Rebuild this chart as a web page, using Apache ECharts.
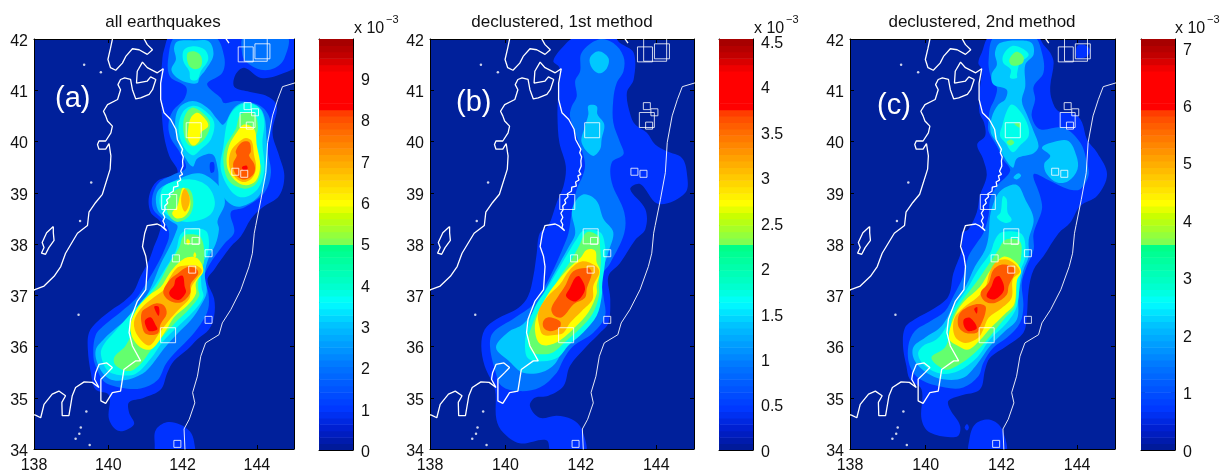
<!DOCTYPE html>
<html><head><meta charset="utf-8">
<script src="https://cdn.jsdelivr.net/npm/echarts@6/dist/echarts.min.js"></script>
<style>html,body{margin:0;padding:0;background:#fff}#c{width:1228px;height:474px}</style></head>
<body><div id="c"></div>
<script>
// Contour polygons: flat lon,lat lists. One array per contour level.
const a1=[[141.73,42.1,141.50,41.79,141.44,41.47,141.39,41.08,141.43,40.63,141.50,40.11,141.64,39.72,141.86,39.39,141.32,39.23,141.10,38.94,141.14,38.62,141.41,38.42,141.37,38.21,141.23,37.95,141.10,37.69,140.87,37.37,140.69,37.08,140.42,36.88,140.16,36.75,139.71,36.49,139.48,36.27,139.45,35.94,139.53,35.49,139.66,35.16,140.02,35.05,140.02,34.58,140.29,34.35,140.69,34.48,140.56,34.71,140.56,34.91,140.96,35.0,141.41,35.16,141.59,35.49,141.77,35.72,142.13,35.94,142.40,36.14,142.71,36.33,142.85,36.59,142.85,36.93,142.67,37.30,142.85,37.50,143.30,37.95,143.57,38.15,143.84,38.49,144.15,38.71,144.60,38.94,144.74,39.33,144.60,39.72,144.42,40.17,144.54,40.69,144.29,40.88,143.75,40.98,143.39,41.07,143.43,41.31,143.66,41.44,144.11,41.24,144.64,41.31,145.2,41.55,145.2,42.1],
[141.31,33.9,141.25,34.1,141.28,34.37,141.57,34.52,141.93,34.48,142.20,34.34,142.31,34.14,142.29,33.9]];
const a2=[[141.82,42.05,141.62,41.66,141.66,41.27,142.09,41.07,142.06,40.85,141.73,40.59,141.62,40.33,141.68,40.07,141.91,39.81,142.09,39.49,141.77,39.36,141.37,39.20,141.19,38.94,141.21,38.68,141.50,38.45,141.64,38.19,141.50,37.87,141.28,37.55,140.96,37.16,140.74,36.93,140.33,36.67,139.93,36.44,139.66,36.22,139.60,35.79,139.71,35.53,139.89,35.31,140.24,35.21,140.87,35.18,141.32,35.34,141.55,35.66,141.77,35.86,142.13,36.12,142.49,36.44,142.69,36.73,142.69,37.06,142.58,37.32,142.71,37.58,143.12,38.0,143.39,38.23,143.30,38.62,143.66,38.71,144.20,39.0,144.38,39.39,144.29,39.85,144.38,40.37,144.11,40.69,143.48,40.79,143.12,40.75,143.03,40.85,142.71,41.05,142.67,41.14,143.07,41.34,143.12,41.66,142.85,42.05],
[143.61,41.69,143.75,41.53,144.11,41.40,144.47,41.43,144.74,41.62,144.81,42.05,143.66,42.05]];
const a3=[[141.77,41.82,141.86,41.95,142.31,41.97,142.71,41.95,142.83,41.69,142.62,41.40,142.45,41.24,142.40,41.14,142.18,41.14,141.86,41.24,141.70,41.40,141.82,41.60],
[142.27,40.79,142.67,40.66,142.94,40.43,143.10,40.33,143.39,40.66,143.75,40.77,144.15,40.59,144.26,40.04,144.26,39.39,144.06,38.94,143.57,38.73,143.25,38.80,143.0,39.07,142.95,39.46,142.80,39.75,142.40,39.67,142.27,39.51,142.04,39.72,141.86,40.04,141.80,40.37,141.91,40.66],
[142.45,39.38,142.98,39.13,143.14,38.81,142.94,38.45,142.98,38.29,142.89,38.0,142.71,37.74,142.60,37.42,142.65,37.06,142.49,36.80,142.22,36.51,141.86,36.25,141.50,35.96,141.19,35.66,140.92,35.47,140.42,35.34,140.02,35.37,139.75,35.60,139.66,35.92,139.89,36.15,140.24,36.38,140.69,36.64,140.96,36.90,141.19,37.22,141.41,37.61,141.64,37.93,141.82,38.23,141.86,38.36,141.68,38.45,141.37,38.62,141.28,38.87,141.37,39.07,141.77,39.23]];
const a4=[[142.04,41.79,142.31,41.86,142.60,41.79,142.69,41.60,142.49,41.37,142.40,41.21,142.22,41.21,142.18,41.37,142.02,41.57],
[142.31,40.70,142.62,40.59,142.85,40.37,142.76,40.04,142.49,39.85,142.27,39.73,142.02,39.91,141.89,40.27,142.02,40.59],
[143.70,40.75,144.06,40.66,144.20,40.40,144.15,39.98,144.20,39.46,144.02,39.07,143.61,38.91,143.30,39.04,143.03,39.46,143.10,39.91,143.21,40.40,143.39,40.63],
[141.59,39.17,142.22,39.26,142.67,39.13,142.87,38.81,142.71,38.55,142.13,38.43,141.68,38.52,141.41,38.71,141.41,39.0],
[142.22,38.30,142.62,38.26,142.71,38.06,142.67,37.80,142.51,37.58,142.51,37.16,142.56,36.96,142.31,36.70,141.86,36.38,141.46,36.09,141.14,35.76,140.74,35.47,140.33,35.44,139.98,35.53,139.80,35.86,139.89,36.05,140.16,36.28,140.60,36.64,140.96,36.93,141.28,37.22,141.55,37.54,141.82,37.87,141.95,38.19]];
const a5=[[142.13,41.72,142.31,41.76,142.50,41.66,142.50,41.47,142.33,41.41,142.16,41.50],
[142.31,40.66,142.58,40.53,142.74,40.37,142.67,40.14,142.45,39.95,142.22,39.91,142.07,40.04,142.02,40.37,142.13,40.59],
[143.57,40.53,143.93,40.53,144.03,40.27,143.97,40.04,144.06,39.65,144.12,39.46,143.97,39.17,143.66,39.08,143.25,39.23,143.10,39.59,143.16,39.91,143.43,40.24],
[141.86,39.07,142.18,39.07,142.29,38.81,142.18,38.55,141.86,38.43,141.64,38.55,141.57,38.74,141.68,38.94],
[142.13,38.19,142.49,38.13,142.58,37.67,142.45,37.42,142.42,37.12,142.45,36.99,142.18,36.73,141.77,36.44,141.41,36.15,141.14,35.92,140.87,35.66,140.56,35.52,140.20,35.63,140.16,35.79,140.47,36.02,140.74,36.44,140.92,36.83,141.32,37.19,141.64,37.61,141.91,37.93,142.0,38.13]];
const a6=[[142.40,40.56,142.62,40.43,142.69,40.30,142.49,40.17,142.45,40.01,142.29,39.92,142.15,40.04,142.15,40.23,142.22,40.46],
[143.66,40.33,143.93,40.24,144.0,39.91,144.09,39.52,143.97,39.23,143.66,39.15,143.34,39.30,143.19,39.55,143.25,39.91,143.48,40.20],
[142.02,39.10,142.18,38.94,142.20,38.71,142.06,38.54,141.84,38.50,141.72,38.60,141.86,38.74,141.93,38.94],
[142.13,37.74,142.40,37.72,142.56,37.48,142.36,37.25,142.36,37.03,142.13,36.80,141.77,36.57,141.55,36.31,141.19,35.96,140.92,35.96,140.69,36.12,140.59,36.38,140.74,36.70,141.10,37.0,141.41,37.16,141.64,37.42,141.86,37.61],
[142.13,38.10,142.2,38.05,142.15,37.98,142.1,38.04],[142.33,37.84,142.37,37.78,142.33,37.73,142.29,37.78]];
const a7=[[143.70,40.07,143.86,40.01,143.92,39.75,143.98,39.49,143.86,39.28,143.61,39.21,143.37,39.34,143.25,39.55,143.30,39.81,143.50,39.98],
[142.06,39.08,142.18,38.94,142.18,38.78,142.07,38.63,141.98,38.74,141.97,38.94],
[142.09,37.58,142.36,37.58,142.52,37.48,142.38,37.32,142.24,37.16,142.18,36.93,141.91,36.73,141.59,36.47,141.39,36.28,141.10,36.02,140.80,36.20,140.69,36.47,140.87,36.73,141.23,36.96,141.52,37.12,141.64,37.32,141.86,37.54]];
const a8=[[143.59,39.98,143.79,39.99,143.84,39.81,143.79,39.72,143.93,39.56,143.94,39.41,143.82,39.30,143.61,39.26,143.43,39.36,143.36,39.56,143.46,39.72,143.43,39.81],
[141.86,37.42,142.13,37.55,142.36,37.52,142.42,37.42,142.22,37.22,142.20,37.03,141.95,36.86,141.64,36.90,141.48,37.06,141.64,37.29],
[141.28,36.84,141.50,36.80,141.57,36.64,141.41,36.44,141.32,36.25,141.01,36.25,140.90,36.44,140.90,36.67,141.05,36.76]];
const a9=[[143.6,39.50,143.72,39.53,143.75,39.47,143.66,39.43],
[141.82,37.32,142.0,37.38,142.06,37.16,142.09,37.06,141.91,36.91,141.70,36.96,141.64,37.06,141.77,37.19],
[140.99,36.51,141.14,36.57,141.28,36.41,141.32,36.33,141.10,36.30,141.01,36.40],
[141.24,36.78,141.36,36.77,141.36,36.6,141.28,36.68]];
const aPatch=[[142.74,39.58,142.84,39.59,142.85,39.42,142.76,39.39]];

const b1=[[141.89,42.05,141.54,41.86,141.27,41.57,141.43,41.44,141.40,40.95,141.38,40.50,141.43,39.98,141.60,39.52,141.54,39.13,141.36,38.81,141.14,38.36,140.91,38.21,140.83,37.82,140.74,37.37,140.60,36.98,140.34,36.75,139.76,36.53,139.45,36.33,139.36,36.01,139.45,35.62,139.72,35.16,139.76,34.58,139.94,34.32,140.38,34.11,141.09,34.17,141.23,33.9,142.11,33.9,142.02,34.39,141.76,34.58,141.36,34.65,140.91,34.61,140.65,34.84,140.78,35.0,141.14,35.04,141.54,35.23,141.71,35.62,142.16,36.01,142.51,36.27,142.73,36.46,142.78,36.92,142.73,37.37,143.04,37.63,143.44,38.08,143.71,38.29,143.71,38.68,143.31,39.07,143.57,39.17,144.06,38.78,144.77,39.0,144.81,39.39,144.68,39.68,144.28,39.81,143.97,39.94,143.75,40.17,143.44,40.33,143.31,40.53,143.22,40.95,143.40,41.21,143.40,41.73,143.04,41.92,142.86,42.05]];
const b2=[[142.47,41.99,142.86,41.92,143.13,41.66,143.13,41.37,142.95,41.14,142.86,40.82,142.86,40.37,143.04,39.98,143.13,39.75,142.82,39.59,142.82,39.20,143.15,38.62,143.15,38.21,142.78,37.63,142.55,37.37,142.60,36.98,142.64,36.59,142.33,36.27,141.80,36.01,141.54,35.75,141.36,35.49,140.91,35.20,140.38,35.13,139.90,35.23,139.72,35.55,139.59,36.01,139.67,36.27,140.25,36.56,140.74,36.82,141.0,37.11,141.31,37.56,141.54,37.95,141.67,38.21,141.76,38.62,141.89,39.07,142.05,39.33,142.11,39.52,142.07,39.72,141.85,40.17,141.71,40.50,141.76,40.69,141.89,40.88,141.85,41.18,141.98,41.37,142.02,41.73]];
const b3=[[142.24,41.63,142.47,41.76,142.73,41.63,142.69,41.43,142.49,41.33,142.29,41.44],
[142.20,40.70,142.42,40.69,142.44,40.53,142.62,40.33,142.55,40.04,142.51,39.85,142.31,39.72,142.02,39.98,142.11,40.30,142.20,40.53],
[142.11,38.97,142.42,38.84,142.60,38.49,142.86,38.23,142.73,37.84,142.62,37.58,142.51,37.19,142.47,36.77,142.24,36.44,141.76,36.18,141.54,35.96,141.31,35.66,140.96,35.50,140.47,35.49,140.12,35.70,139.75,35.98,140.07,36.28,140.47,36.44,140.87,36.83,141.14,37.22,141.45,37.64,141.67,37.93,141.85,38.21,141.76,38.62,141.89,38.87]];
const b4=[[142.07,38.26,142.51,38.23,142.64,37.97,142.64,37.64,142.57,37.25,142.55,36.96,142.42,36.60,142.07,36.28,141.67,36.02,141.40,35.79,141.0,35.71,140.60,35.77,140.52,36.09,140.60,36.38,140.78,36.77,141.09,37.12,141.36,37.45,141.67,37.84,141.89,38.10]];
const b5=[[142.16,38.23,142.47,38.15,142.51,37.93,142.53,37.64,142.48,37.25,142.48,36.99,142.31,36.64,141.98,36.35,141.58,36.09,141.27,35.89,141.0,35.85,140.72,35.89,140.60,36.12,140.72,36.44,140.90,36.73,141.20,37.06,141.46,37.38,141.73,37.67,141.93,37.93]];
const b6=[[142.16,37.89,142.38,37.87,142.42,37.64,142.51,37.48,142.42,37.19,142.42,37.03,142.20,36.67,141.85,36.38,141.45,36.12,141.09,36.02,140.87,36.09,140.78,36.35,140.84,36.60,141.11,37.0,141.40,37.29,141.71,37.55,141.98,37.72]];
const b7=[[142.02,37.66,142.38,37.58,142.49,37.45,142.33,37.18,142.31,36.92,142.02,36.69,141.71,36.46,141.54,36.27,141.36,36.23,141.0,36.23,140.90,36.40,140.87,36.66,141.09,36.95,141.44,37.21,141.71,37.50]];
const b8=[[141.80,37.47,142.20,37.53,142.29,37.43,142.16,37.14,142.11,36.95,141.80,36.82,141.58,36.62,141.45,36.56,141.27,36.62,141.22,36.75,141.40,36.98,141.58,37.18],
[141.0,36.49,141.14,36.57,141.45,36.49,141.43,36.36,141.18,36.30,141.02,36.36]];
const b9=[[141.85,37.34,141.96,37.37,142.11,37.11,141.87,36.88,141.61,36.98,141.71,37.14]];
const bPatch=[];

const c1=[[141.70,42.05,141.48,41.73,141.39,41.53,141.48,41.40,141.42,40.95,141.42,40.56,141.54,40.37,141.57,40.11,141.36,39.94,141.52,39.65,141.61,39.33,141.43,38.94,141.35,38.62,141.13,38.29,140.95,38.21,140.95,37.89,140.73,37.43,140.60,36.98,140.24,36.75,139.71,36.53,139.45,36.36,139.40,36.01,139.49,35.62,139.58,35.36,139.89,35.16,139.89,34.58,140.11,34.32,140.82,34.24,140.91,34.45,140.64,34.78,140.60,34.94,140.91,35.04,141.43,35.16,141.57,35.55,141.70,35.78,142.14,36.01,142.58,36.27,142.67,36.59,142.72,37.11,142.85,37.50,143.11,37.76,143.51,38.21,143.82,38.42,144.08,38.74,144.53,38.94,144.79,39.36,144.53,39.78,144.26,40.04,144.13,40.37,143.95,40.53,143.51,40.59,143.33,40.82,143.29,41.08,143.38,41.53,143.29,41.73,143.11,41.89,142.94,42.05],
[141.15,34.17,141.30,34.48,141.70,34.57,142.01,34.39,142.10,33.9,141.17,33.9],
[141.03,34.42,141.09,34.49,141.14,34.42,141.09,34.36],
[144.0,41.63,144.26,41.66,144.35,41.79,144.17,41.89,144.0,41.86]];
const c2=[[141.83,42.05,142.85,42.05,143.07,41.73,143.11,41.34,142.85,41.07,142.89,40.82,142.80,40.50,143.02,40.24,143.64,40.27,144.08,39.98,144.26,39.59,144.30,39.33,144.08,39.07,143.77,39.07,143.29,39.23,142.85,39.36,143.02,38.94,143.07,38.68,142.85,38.21,142.85,37.89,142.67,37.56,142.54,37.24,142.58,36.79,142.49,36.46,142.14,36.17,141.79,35.98,141.52,35.68,141.39,35.42,140.99,35.20,140.51,35.20,139.85,35.36,139.58,35.62,139.54,36.01,139.71,36.30,140.11,36.49,140.51,36.69,140.73,36.98,140.99,37.37,141.13,37.76,141.35,38.02,141.52,38.21,141.66,38.55,141.70,38.87,141.88,39.13,142.23,39.43,142.05,39.65,141.88,39.91,141.66,40.20,141.66,40.43,141.70,40.63,141.83,40.85,141.88,41.05,141.74,41.21,141.66,41.57]];
const c3=[[141.96,41.92,142.49,41.97,142.80,41.92,142.85,41.70,142.63,41.50,142.63,41.08,142.54,40.79,142.67,40.53,142.85,40.20,142.98,39.91,142.85,39.77,142.41,39.67,142.30,39.49,142.05,39.72,141.88,39.98,141.72,40.17,141.74,40.46,141.92,40.72,142.10,40.82,142.14,41.01,141.79,41.11,141.74,41.31,141.88,41.50,141.83,41.73],
[143.07,39.88,143.38,39.99,143.77,40.01,143.98,39.72,144.01,39.46,143.77,39.23,143.47,39.20,143.20,39.36,143.13,39.56,143.29,39.72],
[142.32,39.30,142.45,39.38,142.52,39.33,142.41,39.26],
[142.01,39.06,142.41,39.15,142.63,38.87,142.85,38.49,142.72,38.08,142.72,37.76,142.57,37.47,142.45,36.98,142.41,36.53,142.05,36.27,141.70,36.01,141.35,35.65,140.99,35.39,140.46,35.36,140.02,35.49,139.71,35.72,139.67,35.98,139.98,36.17,140.42,36.40,140.73,36.79,141.08,37.21,141.30,37.56,141.57,37.89,141.66,38.15,141.70,38.55,141.83,38.87]];
const c4=[[142.05,41.69,142.27,41.86,142.54,41.82,142.72,41.69,142.49,41.53,142.41,41.31,142.41,41.24,142.23,41.24,142.25,41.40,142.05,41.53],
[142.27,40.72,142.45,40.63,142.67,40.37,142.72,40.11,142.49,39.92,142.30,39.79,142.10,39.98,141.96,40.11,142.03,40.33,142.14,40.59],
[142.04,38.93,142.14,38.87,142.16,38.62,142.27,38.47,142.10,38.41,141.88,38.52,141.98,38.62],
[142.01,38.23,142.54,38.19,142.63,37.76,142.51,37.47,142.41,36.79,142.14,36.46,141.70,36.14,141.35,35.78,140.86,35.52,140.42,35.47,139.98,35.62,139.80,35.85,139.93,36.01,140.29,36.14,140.55,36.40,140.73,36.72,141.08,37.11,141.39,37.50,141.70,37.82,141.83,38.08]];
const c5=[[142.21,41.60,142.39,41.75,142.58,41.66,142.56,41.53,142.39,41.48,142.25,41.50],
[142.14,39.99,142.25,40.04,142.34,39.98,142.23,39.92],
[142.34,40.35,142.50,40.35,142.48,40.27],
[142.10,38.08,142.49,38.05,142.51,37.69,142.41,37.47,142.36,36.79,142.10,36.56,141.70,36.20,141.30,35.88,140.82,35.62,140.51,35.55,140.15,35.78,140.51,35.98,140.64,36.27,140.71,36.59,140.95,36.88,141.35,37.27,141.66,37.60,141.92,37.89]];
const c6=[[142.05,37.75,142.36,37.66,142.52,37.47,142.41,37.29,142.34,36.83,142.10,36.64,141.70,36.35,141.43,36.12,141.13,35.94,140.86,36.01,140.62,36.15,140.73,36.54,140.99,36.86,141.43,37.16,141.74,37.52]];
const c7=[[141.88,37.66,142.19,37.69,142.49,37.47,142.30,37.31,142.27,36.95,142.01,36.75,141.66,36.56,141.52,36.33,141.39,36.17,141.04,36.07,140.77,36.20,140.75,36.53,140.99,36.75,141.35,36.95,141.57,37.14,141.70,37.47]];
const c8=[[141.79,37.50,142.05,37.60,142.36,37.50,142.19,37.18,142.14,37.01,141.83,36.85,141.57,36.88,141.45,37.05,141.66,37.24],
[140.91,36.66,141.30,36.82,141.57,36.79,141.57,36.64,141.43,36.38,141.35,36.27,141.04,36.27,140.86,36.40]];
const c9=[[141.83,37.34,141.95,37.37,142.07,37.11,141.83,36.92,141.61,36.98,141.74,37.18],
[141.01,36.53,141.17,36.56,141.35,36.36,141.13,36.30,141.01,36.40],
[141.28,36.73,141.36,36.77,141.35,36.64]];
const cPatch=[];

const coastWest=[141.48,41.42,141.32,41.34,141.05,41.44,140.92,41.55,140.78,41.37,140.76,41.14,141.05,41.18,141.14,41.26,141.28,41.21,141.19,41.01,141.10,40.92,140.87,40.85,140.74,40.83,140.65,41.01,140.60,41.21,140.44,41.24,140.33,41.21,140.26,41.11,140.33,41.01,140.25,40.82,139.98,40.72,139.87,40.59,139.93,40.50,139.98,40.40,140.11,40.30,140.07,40.17,139.93,40.01,139.75,40.01,139.71,39.94,139.75,39.85,139.93,39.85,140.02,39.96,140.07,39.72,140.05,39.46,139.84,38.97,139.66,38.81,139.48,38.62,139.44,38.36,139.17,38.21,138.85,37.82,138.72,37.56,138.54,37.37,138.27,37.18,138.02,37.11,137.9,37.05];
const coastEast=[141.48,41.42,141.41,41.14,141.41,40.82,141.50,40.56,141.68,40.43,141.82,40.24,141.86,40.04,142.0,39.85,141.97,39.78,142.02,39.7,142.0,39.62,142.03,39.59,142.01,39.52,142.04,39.49,141.95,39.42,142.0,39.36,141.92,39.33,141.95,39.25,141.86,39.21,141.88,39.13,141.76,39.11,141.75,39.03,141.64,38.98,141.66,38.92,141.57,38.86,141.6,38.8,141.52,38.74,141.53,38.67,141.47,38.6,141.52,38.52,141.47,38.45,141.52,38.38,141.50,38.32,141.57,38.26,141.41,38.36,141.32,38.39,141.05,38.36,140.98,38.21,140.92,37.95,141.01,37.76,141.05,37.56,141.01,37.11,140.78,36.88,140.60,36.53,140.56,36.27,140.65,36.01,140.87,35.72,140.74,35.72,140.42,35.55,140.38,35.36,140.33,35.13,140.11,35.10,139.93,34.89,139.80,34.94,139.80,35.16,139.80,35.36,139.98,35.49,140.11,35.59,139.96,35.68,139.75,35.65,139.66,35.49,139.63,35.36,139.75,35.20,139.57,35.30,139.35,35.31,139.12,35.20,139.03,35.04,138.94,34.65,138.76,34.65,138.75,34.91,138.85,35.04,138.67,35.13,138.49,35.07,138.27,34.87,138.18,34.61,138.04,34.66,137.9,34.68];
const coastHokkaido=[140.14,42.1,140.06,41.82,139.99,41.60,140.06,41.44,140.20,41.39,140.38,41.53,140.47,41.66,140.65,41.81,140.83,41.79,141.05,41.70,141.19,41.79,141.05,41.89,140.89,42.1];
const coastHokkaidoEast=[143.08,42.1,143.25,41.92];
const coastSado=[138.52,38.34,138.34,38.22,138.22,38.03,138.27,37.93,138.20,37.82,138.31,37.80,138.40,37.93,138.54,38.07,138.52,38.22,138.52,38.34];
const trench=[145.1,41.16,144.69,41.07,144.56,40.82,144.42,40.50,144.29,39.98,144.24,39.39,144.11,38.87,143.97,38.36,143.93,38.21,143.88,37.82,143.79,37.56,143.57,37.11,143.30,36.72,143.07,36.46,142.98,36.23,142.62,36.07,142.49,35.81,142.40,35.42,142.27,35.10,142.33,34.90,142.18,34.58,142.04,34.39,142.07,33.9];
const islandLon=[139.35,139.80,139.54,139.24,139.41,139.26,139.22,139.5,139.12,139.2];
const islandLat=[41.50,41.35,39.20,38.45,34.73,34.42,34.3,34.08,34.2,36.62];
const squareLon=[143.70,143.97,144.15,143.75,143.95,143.75,143.81,142.30,143.42,143.66,141.64,142.26,142.35,142.70,141.82,142.26,142.70,141.61,141.86];
const squareLat=[41.70,41.79,41.76,40.69,40.57,40.42,40.31,40.22,39.41,39.37,38.82,38.15,38.06,37.82,37.72,37.50,36.52,36.22,34.10];
const squareSize=[15,23,15,7,7,15,7,15,7,7,15,15,7,7,7,7,7,15,7];

const levelColors=['#0032ff','#0073ff','#00c8ff','#00ffeb','#64ff6e','#ffff00','#ffb400','#ff5a00','#ff0000'];
const barStops=[[0,0,25,145],[.05,0,30,205],[.1,0,55,255],[.2,0,115,255],[.3,0,190,255],[.36,0,255,255],[.4,0,255,205],[.4999,0,255,130],[.5,120,255,90],[.57,200,255,0],[.6,255,255,0],[.7,255,170,0],[.8,255,85,0],[.8299,255,50,0],[.83,255,0,0],[.92,255,0,0],[.96,195,0,0],[1,160,0,0]];
const bandCount=64;

const mapColor='#00209b';
const panels=[
 {levels:[a1,a2,a3,a4,a5,a6,a7,a8,a9],patch:aPatch,left:34,width:260,bar:319,barMax:9.95,barStep:1,title:'all earthquakes',tx:163,tag:'(a)',tagx:55,tagy:88,expx:354},
 {levels:[b1,b2,b3,b4,b5,b6,b7,b8,b9],patch:bPatch,left:430,width:264,bar:719,barMax:4.52,barStep:.5,title:'declustered, 1st method',tx:562,tag:'(b)',tagx:456,tagy:92,expx:754},
 {levels:[c1,c2,c3,c4,c5,c6,c7,c8,c9],patch:cPatch,left:850,width:265,bar:1141,barMax:7.15,barStep:1,title:'declustered, 2nd method',tx:982,tag:'(c)',tagx:877,tagy:95,expx:1175}
];
const pairs=f=>{const o=[];for(let i=0;i<f.length;i+=2)o.push([f[i],f[i+1]]);return o};
const font='"Liberation Sans",Arial,sans-serif';
const TOP=39,H=411;
const grid=[],xAxis=[],yAxis=[],series=[],title=[];
function bandColor(t){
  for(let i=1;i<barStops.length;i++){if(t<=barStops[i][0]){const a=barStops[i-1],b=barStops[i],k=(t-a[0])/(b[0]-a[0]);
    return 'rgb('+[1,2,3].map(j=>Math.round(a[j]+(b[j]-a[j])*k)).join(',')+')'}}
  return '#a00000';
}
const tick={show:true,inside:true,length:4,lineStyle:{color:'#000',width:1}};
const axLine={show:true,onZero:false,lineStyle:{color:'#000',width:1}};
const lab={color:'#111',fontFamily:font,fontSize:16};
const shifted={...lab,formatter:v=>'{v|'+v+'}',verticalAlignMinLabel:'middle',verticalAlignMaxLabel:'middle',rich:{v:{color:'#111',fontFamily:font,fontSize:16,padding:[5,0,0,0]}}};
panels.forEach((p,pi)=>{
  const g=grid.length;
  grid.push({left:p.left,width:p.width,top:TOP,height:H,show:true,backgroundColor:mapColor,borderWidth:0});
  const xi=xAxis.length,yi=yAxis.length;
  xAxis.push({gridIndex:g,type:'value',min:138,max:145,interval:2,position:'bottom',axisLine:axLine,axisTick:tick,splitLine:{show:false},axisLabel:{...lab,margin:9,showMaxLabel:false}});
  xAxis.push({gridIndex:g,type:'value',min:138,max:145,interval:2,position:'top',axisLine:axLine,axisTick:tick,splitLine:{show:false},axisLabel:{show:false}});
  yAxis.push({gridIndex:g,type:'value',min:34,max:42,interval:1,position:'left',axisLine:axLine,axisTick:tick,splitLine:{show:false},axisLabel:{...shifted,margin:6}});
  yAxis.push({gridIndex:g,type:'value',min:34,max:42,interval:1,position:'right',axisLine:axLine,axisTick:tick,splitLine:{show:false},axisLabel:{show:false}});
  const polys=[];p.levels.forEach((lv,l)=>lv.forEach(f=>polys.push({l,pts:pairs(f)})));
  p.patch.forEach(f=>polys.push({l:0,pts:pairs(f)}));
  series.push({type:'custom',xAxisIndex:xi,yAxisIndex:yi,clip:true,silent:true,animation:false,
    data:polys.map((_,i)=>[i]),
    renderItem:(params,api)=>{const q=polys[api.value(0)];
      return {type:'polygon',shape:{points:q.pts.map(v=>api.coord(v)),smooth:.35},style:{fill:levelColors[q.l]}}}});
  [coastWest,coastEast,coastHokkaido,coastHokkaidoEast,coastSado,trench].forEach((c,ci)=>{
    series.push({type:'line',xAxisIndex:xi,yAxisIndex:yi,data:pairs(c),showSymbol:false,silent:true,animation:false,clip:true,
      lineStyle:{color:'#fff',width:ci===5?.9:1.3},z:3});
  });
  series.push({type:'scatter',xAxisIndex:xi,yAxisIndex:yi,data:islandLon.map((v,i)=>[v,islandLat[i]]),symbol:'circle',symbolSize:2.5,itemStyle:{color:'#fff'},silent:true,animation:false,z:3});
  series.push({type:'scatter',xAxisIndex:xi,yAxisIndex:yi,data:squareLon.map((v,i)=>[v,squareLat[i],squareSize[i]]),symbol:'rect',symbolSize:d=>d[2],
    itemStyle:{color:'rgba(0,0,0,0)',borderColor:'#fff',borderWidth:1},silent:true,animation:false,z:4});
  const gb=grid.length;
  grid.push({left:p.bar,width:34,top:TOP,height:H,show:false});
  const xb=xAxis.length,yb=yAxis.length;
  xAxis.push({gridIndex:gb,type:'value',min:0,max:1,position:'bottom',axisLine:axLine,axisTick:{show:false},splitLine:{show:false},axisLabel:{show:false}});
  xAxis.push({gridIndex:gb,type:'value',min:0,max:1,position:'top',axisLine:axLine,axisTick:{show:false},splitLine:{show:false},axisLabel:{show:false}});
  yAxis.push({gridIndex:gb,type:'value',min:0,max:p.barMax,interval:p.barStep,position:'right',axisLine:axLine,axisTick:tick,splitLine:{show:false},axisLabel:{...shifted,margin:8,showMaxLabel:false}});
  yAxis.push({gridIndex:gb,type:'value',min:0,max:p.barMax,interval:p.barStep,position:'left',axisLine:axLine,axisTick:tick,splitLine:{show:false},axisLabel:{show:false}});
  series.push({type:'custom',xAxisIndex:xb,yAxisIndex:yb,silent:true,animation:false,clip:true,
    data:Array.from({length:bandCount},(_,i)=>[i]),
    renderItem:(params,api)=>{const i=api.value(0),st=p.barMax/bandCount;
      const a=api.coord([0,(i+1)*st]),b=api.coord([1,i*st]);
      return {type:'rect',shape:{x:a[0],y:a[1],width:b[0]-a[0],height:b[1]-a[1]+.5},style:{fill:bandColor((i+.5)/bandCount)}}}});
  title.push({text:p.title,left:p.tx,top:14,textAlign:'center',textStyle:{fontFamily:font,fontWeight:'normal',fontSize:17,color:'#111'},padding:0});
  title.push({text:p.tag,left:p.tagx,top:p.tagy-4,textStyle:{fontFamily:font,fontWeight:'normal',fontSize:29,color:'#fff'},padding:0,z:8});
  title.push({text:'x 10',left:p.expx,top:21,textStyle:{fontFamily:font,fontWeight:'normal',fontSize:16,color:'#111'},padding:0});
  title.push({text:'\u22123',left:p.expx+32,top:14,textStyle:{fontFamily:font,fontWeight:'normal',fontSize:11,color:'#111'},padding:0});
});
const chart=echarts.init(document.getElementById('c'),null,{renderer:'canvas'});
chart.setOption({animation:false,backgroundColor:'#fff',grid,xAxis,yAxis,series,title,tooltip:{show:false}});
</script></body></html>
